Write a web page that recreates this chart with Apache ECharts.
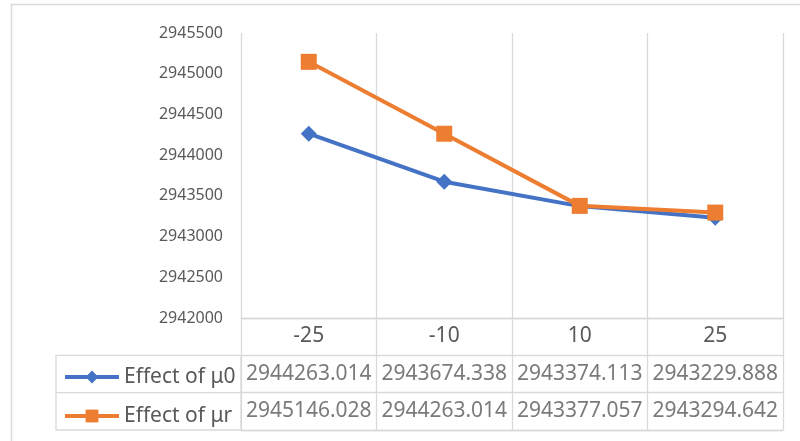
<!DOCTYPE html>
<html>
<head>
<meta charset="utf-8">
<script src="https://cdn.jsdelivr.net/npm/echarts@6/dist/echarts.min.js"></script>
<style>
  html, body { margin: 0; padding: 0; background: #fff; }
  #chart { width: 800px; height: 441px; }
</style>
</head>
<body>
<div id="chart"></div>
<script>
// data
var categories = ["-25", "-10", "10", "25"];
var seriesNames = ["Effect of μ0", "Effect of μr"];
var effectMu0 = [2944263.014, 2943674.338, 2943374.113, 2943229.888];
var effectMur = [2945146.028, 2944263.014, 2943377.057, 2943294.642];
var yMin = 2942000;
var yMax = 2945500;
var yStep = 500;

var FONT = "Noto Sans";
var TEXT = "#595959";
var GRID_LINE = "#D9D9D9";
var colors = ["#4472C4", "#ED7D31"];

// table cells: [category index, row index, value]
function tableCells(values, row) {
  return values.map(function (v, i) { return [i, row, v]; });
}

var chart = echarts.init(document.getElementById("chart"));

var cellLabel = {
  show: true,
  position: "inside",
  fontFamily: FONT,
  fontSize: 21,
  color: TEXT,
  formatter: function (p) { return p.value[2].toFixed(3); }
};

var option = {
  animation: false,
  color: colors,
  legend: {
    data: seriesNames,
    orient: "vertical",
    left: 58,
    top: 360,
    itemWidth: 54,
    itemHeight: 16,
    itemGap: 15,
    lineStyle: { width: 4 },
    textStyle: { fontFamily: FONT, fontSize: 21, color: TEXT, lineHeight: 24 }
  },
  grid: [
    { left: 241, right: 17, top: 33, height: 285 },
    { left: 241, right: 17, top: 318, bottom: 11 }
  ],
  xAxis: [
    {
      type: "category",
      gridIndex: 0,
      data: categories,
      axisLine: { lineStyle: { color: GRID_LINE, width: 1.3 } },
      axisTick: { show: false },
      axisLabel: { fontFamily: FONT, fontSize: 21, color: TEXT, margin: 8 },
      splitLine: { show: true, lineStyle: { color: GRID_LINE, width: 1.3 } }
    },
    {
      type: "category",
      gridIndex: 1,
      data: categories,
      axisLine: { show: true, lineStyle: { color: GRID_LINE, width: 1.3 } },
      axisTick: { show: false },
      axisLabel: { show: false },
      splitLine: { show: true, lineStyle: { color: GRID_LINE, width: 1.3 } }
    }
  ],
  yAxis: [
    {
      type: "value",
      gridIndex: 0,
      min: yMin,
      max: yMax,
      interval: yStep,
      axisLine: { show: false },
      axisTick: { show: false },
      splitLine: { show: false },
      axisLabel: {
        fontFamily: FONT, fontSize: 16, color: TEXT, margin: 18,
        formatter: function (v) { return String(v); }
      }
    },
    {
      type: "category",
      gridIndex: 1,
      inverse: true,
      data: [""].concat(seriesNames),
      axisLine: { show: false },
      axisTick: { show: false },
      axisLabel: { show: false },
      splitLine: { show: true, lineStyle: { color: GRID_LINE, width: 1.3 } }
    }
  ],
  series: [
    {
      name: seriesNames[0],
      type: "line",
      data: effectMu0,
      symbol: "diamond",
      symbolSize: 16,
      lineStyle: { width: 4 },
      itemStyle: { color: colors[0] }
    },
    {
      name: seriesNames[1],
      type: "line",
      data: effectMur,
      symbol: "rect",
      symbolSize: 16,
      lineStyle: { width: 4 },
      itemStyle: { color: colors[1] }
    },
    {
      name: "row0",
      type: "scatter",
      xAxisIndex: 1,
      yAxisIndex: 1,
      symbolSize: 0,
      data: tableCells(effectMu0, 1),
      label: cellLabel
    },
    {
      name: "row1",
      type: "scatter",
      xAxisIndex: 1,
      yAxisIndex: 1,
      symbolSize: 0,
      data: tableCells(effectMur, 2),
      label: cellLabel
    }
  ],
  graphic: [
    {
      type: "rect",
      shape: { x: 11.5, y: 4.5, width: 820, height: 460 },
      style: { fill: null, stroke: GRID_LINE, lineWidth: 1.5 },
      silent: true
    },
    {
      type: "rect",
      shape: { x: 56, y: 355.3, width: 185, height: 74.7 },
      style: { fill: null, stroke: GRID_LINE, lineWidth: 1.3 },
      silent: true
    },
    {
      type: "line",
      shape: { x1: 56, y1: 392.7, x2: 241, y2: 392.7 },
      style: { stroke: GRID_LINE, lineWidth: 1.3 },
      silent: true
    }
  ]
};

chart.setOption(option);
window.addEventListener("resize", function () { chart && chart.resize(); });
</script>
</body>
</html>
